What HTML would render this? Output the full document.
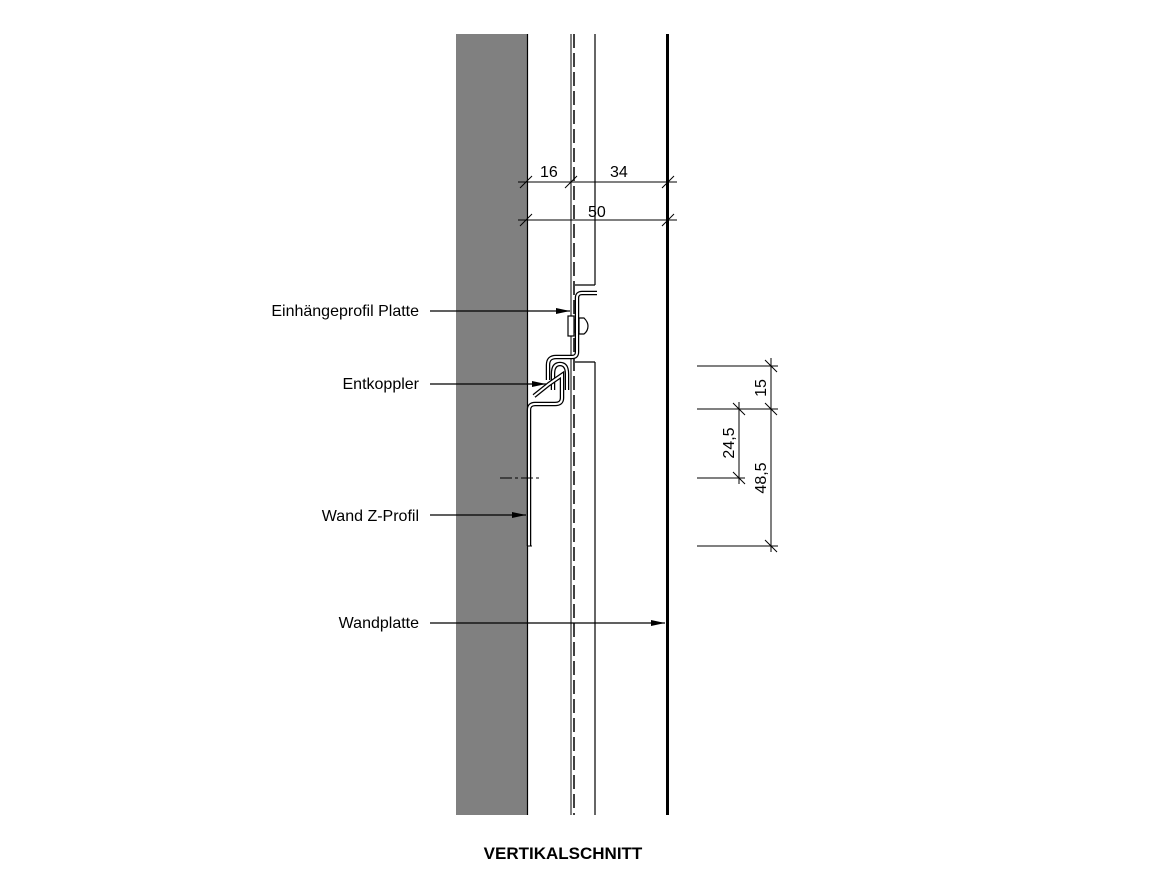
<!DOCTYPE html>
<html><head><meta charset="utf-8"><style>
html,body{margin:0;padding:0;background:#fff;}
svg{display:block;}
text{font-family:"Liberation Sans",sans-serif;fill:#000;}
</style></head><body>
<svg width="1170" height="878" viewBox="0 0 1170 878" xmlns="http://www.w3.org/2000/svg">
<defs>
<marker id="ar" markerWidth="14" markerHeight="6" refX="14" refY="3" orient="auto" markerUnits="userSpaceOnUse">
<path d="M0,0 L14,3 L0,6 Z" fill="#000"/></marker>
</defs>
<rect x="456" y="34" width="71" height="781" fill="#808080"/>
<line x1="527.5" y1="34" x2="527.5" y2="815" stroke="#000" stroke-width="1.2"/>
<line x1="571" y1="34" x2="571" y2="815" stroke="#000" stroke-width="1"/>
<line x1="574" y1="34" x2="574" y2="815" stroke="#000" stroke-width="1.5" stroke-dasharray="14,5"/>
<line x1="595" y1="34" x2="595" y2="285" stroke="#000" stroke-width="1.2"/>
<line x1="575" y1="285" x2="595" y2="285" stroke="#000" stroke-width="1.2"/>
<line x1="595" y1="362" x2="595" y2="815" stroke="#000" stroke-width="1.2"/>
<line x1="575" y1="362" x2="595" y2="362" stroke="#000" stroke-width="1.2"/>
<line x1="667.5" y1="34" x2="667.5" y2="815" stroke="#000" stroke-width="3"/>
<g stroke="#000" stroke-width="1">
<line x1="518" y1="182" x2="677" y2="182"/>
<line x1="518" y1="220" x2="677" y2="220"/>
<line x1="520" y1="188" x2="532" y2="176"/>
<line x1="565" y1="188" x2="577" y2="176"/>
<line x1="662" y1="188" x2="674" y2="176"/>
<line x1="520" y1="226" x2="532" y2="214"/>
<line x1="662" y1="226" x2="674" y2="214"/>
</g>
<text x="540" y="177" font-size="16">16</text>
<text x="610" y="177" font-size="16">34</text>
<text x="588" y="217" font-size="16">50</text>
<path d="M597,293 L582,293 Q577,293 577,298 L577,352 Q577,357 572,357 L556,357 Q548,357 548,365 L548,380" fill="none" stroke="#000" stroke-width="4.5"/>
<path d="M597,293 L582,293 Q577,293 577,298 L577,352 Q577,357 572,357 L556,357 Q548,357 548,365 L548,380" fill="none" stroke="#fff" stroke-width="2"/>
<rect x="568" y="316" width="6" height="20" fill="#fff" stroke="#000" stroke-width="1.2"/>
<path d="M579,318 L584,318 Q588,322 588,326 Q588,331 584,334 L579,334 Z" fill="#fff" stroke="#000" stroke-width="1.2"/>
<path d="M553,390 L553,374 Q553,364 560,364 Q567,364 567,374 L567,390" fill="none" stroke="#000" stroke-width="4.5"/>
<path d="M553,390 L553,374 Q553,364 560,364 Q567,364 567,374 L567,390" fill="none" stroke="#fff" stroke-width="2"/>
<path d="M529,546 L529,410 Q529,404 535,404 L555,404 Q562,404 562,398 L562,375 L549,384 L534,396" fill="none" stroke="#000" stroke-width="4.5"/>
<path d="M529,546 L529,410 Q529,404 535,404 L555,404 Q562,404 562,398 L562,375 L549,384 L534,396" fill="none" stroke="#fff" stroke-width="2"/>
<line x1="527" y1="546" x2="532" y2="546" stroke="#000" stroke-width="1"/>
<line x1="500" y1="478" x2="541" y2="478" stroke="#000" stroke-width="1" stroke-dasharray="12,3,3,3"/>
<text x="419" y="316" font-size="16" text-anchor="end">Einhängeprofil Platte</text>
<text x="419" y="389" font-size="16" text-anchor="end">Entkoppler</text>
<text x="419" y="521" font-size="16" text-anchor="end">Wand Z-Profil</text>
<text x="419" y="628" font-size="16" text-anchor="end">Wandplatte</text>
<g stroke="#000" stroke-width="1.2">
<line x1="430" y1="311" x2="570" y2="311" marker-end="url(#ar)"/>
<line x1="430" y1="384" x2="546" y2="384" marker-end="url(#ar)"/>
<line x1="430" y1="515" x2="526" y2="515" marker-end="url(#ar)"/>
<line x1="430" y1="623" x2="665" y2="623" marker-end="url(#ar)"/>
</g>
<g stroke="#000" stroke-width="1">
<line x1="697" y1="366" x2="778" y2="366"/>
<line x1="697" y1="409" x2="778" y2="409"/>
<line x1="697" y1="478" x2="745" y2="478"/>
<line x1="697" y1="546" x2="778" y2="546"/>
<line x1="771" y1="358" x2="771" y2="552"/>
<line x1="739" y1="402" x2="739" y2="484"/>
<line x1="765" y1="360" x2="777" y2="372"/>
<line x1="765" y1="403" x2="777" y2="415"/>
<line x1="765" y1="540" x2="777" y2="552"/>
<line x1="733" y1="403" x2="745" y2="415"/>
<line x1="733" y1="472" x2="745" y2="484"/>
</g>
<text transform="translate(766,388) rotate(-90)" font-size="16" text-anchor="middle">15</text>
<text transform="translate(734,443) rotate(-90)" font-size="16" text-anchor="middle">24,5</text>
<text transform="translate(766,478) rotate(-90)" font-size="16" text-anchor="middle">48,5</text>
<text x="563" y="859" font-size="17" font-weight="bold" text-anchor="middle">VERTIKALSCHNITT</text>
</svg>
</body></html>
